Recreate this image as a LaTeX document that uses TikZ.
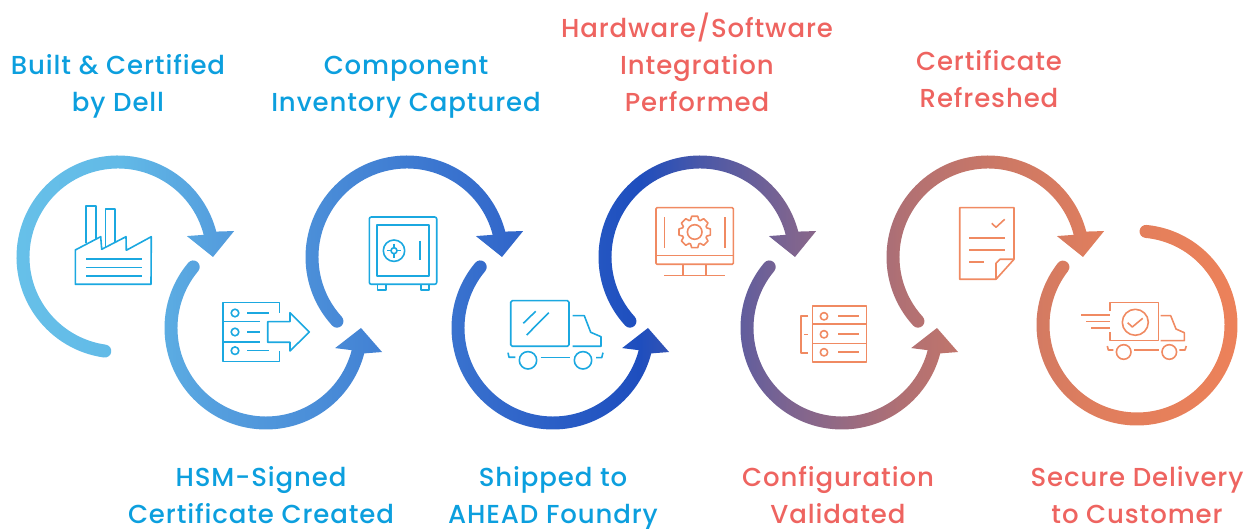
\documentclass[tikz,border=0pt]{standalone}
\usepackage{fontspec}
\newfontfamily\lblfont[LetterSpace=3.4]{Poppins Medium}
\usepackage{tikz}
\definecolor{lblblue}{HTML}{0C9FDE}
\definecolor{lblred}{HTML}{EE6460}
\definecolor{iconblue}{HTML}{1BA8E0}
\definecolor{iconred}{HTML}{F08A62}
\definecolor{ribA}{HTML}{67C1E9}
\definecolor{ribB}{HTML}{62BAE7}
\definecolor{ribC}{HTML}{559FDE}
\definecolor{ribD}{HTML}{4A8DD8}
\definecolor{ribE}{HTML}{3369CB}
\definecolor{ribF}{HTML}{1E4EBE}
\definecolor{ribG}{HTML}{4A58A8}
\definecolor{ribH}{HTML}{7D6490}
\definecolor{ribI}{HTML}{B07074}
\definecolor{ribJ}{HTML}{CC7865}
\definecolor{ribK}{HTML}{E07E5D}
\definecolor{ribL}{HTML}{EE8259}
\pgfdeclarehorizontalshading{ribbonshade}{100bp}{
color(0bp)=(ribA); color(25bp)=(ribA); color(29.7bp)=(ribB); color(33.5bp)=(ribC); color(37.75bp)=(ribD); color(44.95bp)=(ribE); color(50.5bp)=(ribF);
color(52.95bp)=(ribG); color(56.5bp)=(ribH); color(60.9bp)=(ribI); color(64.9bp)=(ribJ); color(68.9bp)=(ribK); color(75bp)=(ribL); color(100bp)=(ribL)}
\tikzset{
pxscope/.style={shift={(0,529)},yscale=-1},
lbl/.style={font=\lblfont\fontsize{26}{37}\selectfont,align=center},
iconb/.style={draw=iconblue,line width=1.6pt,line join=round},
iconr/.style={draw=iconred,line width=1.6pt,line join=round}
}
% top ring: centre x, centre y, start angle
\newcommand{\topring}[3]{([shift={(#3:101.5)}]#1,#2) arc[start angle=#3,end angle=14.5,radius=101.5pt]
 -- ([shift={(12.6:119)}]#1,#2) -- ([shift={(0:95)}]#1,#2) -- ([shift={(16.9:72)}]#1,#2) -- ([shift={(14.5:88.5)}]#1,#2)
 arc[start angle=14.5,end angle=#3,radius=88.5pt] arc[start angle=#3+180,end angle=#3,radius=6.5pt] -- cycle}
% bottom ring
\newcommand{\botring}[3]{([shift={(#3:101.5)}]#1,#2) arc[start angle=#3,end angle=345.5,radius=101.5pt]
 -- ([shift={(-11.7:118.5)}]#1,#2) -- ([shift={(0:95)}]#1,#2) -- ([shift={(-16.2:72)}]#1,#2) -- ([shift={(345.5:88.5)}]#1,#2)
 arc[start angle=345.5,end angle=#3,radius=88.5pt] arc[start angle=#3+180,end angle=#3+360,radius=6.5pt] -- cycle}
\begin{document}
\begin{tikzpicture}[x=1pt,y=1pt]
\useasboundingbox (0,0) rectangle (1253,529);
\begin{scope}
\clip \topring{118}{272}{262} \botring{266}{201}{140} \topring{407}{272}{222.5} \botring{553}{201}{140}
 \topring{700}{272}{222.5} \botring{842}{201}{140} \topring{988}{272}{222.5}
 ([shift={(142:100.5)}]1137,204) arc[start angle=142,end angle=444.5,radius=100.5pt]
 arc[start angle=84.5,end angle=264.5,radius=6.5pt]
 arc[start angle=444.5,end angle=142,radius=87.5pt]
 arc[start angle=322,end angle=502,radius=6.5pt] -- cycle;
\shade[shading=ribbonshade] (0,0) rectangle (1253,529);
\end{scope}
\begin{scope}[pxscope]
% labels
\node[lbl,text=lblblue] (built) at (118,86.5) {Built \& Certified\\by Dell};
\node[lbl,text=lblblue] (inventory) at (406,87) {Component\\Inventory Captured};
\node[lbl,text=lblblue] (hsm) at (261,495.5) {HSM-Signed\\Certificate Created};
\node[lbl,text=lblblue] (shipped) at (553,498.5) {Shipped to\\AHEAD Foundry};
\node[lbl,text=lblred] (hardware) at (697,62) {Hardware/Software\\Integration\\Performed};
\node[lbl,text=lblred] (refreshed) at (989,79.5) {Certificate\\Refreshed};
\node[lbl,text=lblred] (validated) at (838,495.5) {Configuration\\Validated};
\node[lbl,text=lblred] (delivery) at (1137,495.5) {Secure Delivery\\to Customer};
% factory
\draw[iconb] (75.3,250) -- (100.7,236.7) -- (101.7,249.3) -- (126,236.7) -- (126.3,250.3) -- (151.3,236.7) -- (151,284.3) -- (75.3,284.3) -- cycle;
\draw[iconb] (86,243.5) -- (86,206) -- (95.7,206) -- (95.7,239);
\draw[iconb] (105.3,247) -- (105.3,209.3) -- (115,209.3) -- (115,242);
\foreach \y in {259,267.7,276.3} \draw[iconb] (86.3,\y) -- (142.3,\y);
% server with arrow
\draw[iconb] (279.3,312.7) -- (279.3,302.7) -- (222.7,302.7) -- (222.7,361.7) -- (279.3,361.7) -- (279.3,350.7);
\draw[iconb] (222.7,321.7) -- (260,321.7) (222.7,342.3) -- (260,342.3);
\foreach \y in {313,332,350.7} \draw[iconb] (235,\y) circle (3.8);
\draw[iconb] (247.3,313) -- (269,313) (247.3,332) -- (260,332) (247.3,350.7) -- (269,350.7);
\draw[iconb] (267.7,321.7) -- (290,321.7) -- (290,312.7) -- (309.3,332) -- (290,351) -- (290,342.3) -- (267.7,342.3) -- cycle;
% safe
\draw[iconb,rounded corners=2pt] (369.3,217) rectangle (436.7,284.3);
\draw[iconb,line width=2pt] (377.3,225.3) rectangle (428.7,276.3);
\draw[iconb] (394,250.7) circle (10.7) (394,250.7) circle (3);
\draw[iconb] (394,243.7) -- (394,247.7) (394,253.7) -- (394,257.7) (387,250.7) -- (391,250.7) (397,250.7) -- (401,250.7);
\draw[iconb] (420,240.7) -- (420,260.3);
\draw[iconb] (377.3,284.3) -- (377.3,290.3) -- (385.7,290.3) -- (385.7,284.3) (420.7,284.3) -- (420.7,290.3) -- (428.7,290.3) -- (428.7,284.3);
% truck
\draw[iconb,rounded corners=1.5pt] (510.7,300.7) rectangle (569,346.3);
\draw[iconb] (523.3,323.3) -- (535.7,311.3) (526.7,335) -- (548.7,312.7);
\draw[iconb] (572.7,315.7) -- (584.3,315.7) -- (590.7,332.3) -- (601,336.7) -- (601,346.3) -- (572.7,346.3);
\draw[iconb] (528,360.3) circle (8.7) (583,360.3) circle (8.7);
\draw[iconb] (540.7,357.7) -- (570,357.7);
\draw[iconb] (508,352.7) -- (509,357.3) -- (515.3,357.3) (596,357.7) -- (601.7,357.7) -- (603,352.7);
% monitor
\draw[iconr,rounded corners=1pt] (656,207.7) rectangle (733.3,264.3);
\draw[iconr] (656,255.7) -- (733.3,255.7);
\draw[iconr] (683,264.3) -- (683,275.7) (706,264.3) -- (706,275.7) (664.3,275.7) -- (725.3,275.7);
\draw[iconr] (664.3,217.3) -- (664.3,248) (725,217.3) -- (725,248);
\draw[iconr] (694.7,232) circle (7.3);
\draw[iconr,shift={(694.7,232)}] (11:16) \foreach \a in {0,45,...,315} { -- (\a+11:16) -- (\a+19:12.7) -- (\a+26:12.7) -- (\a+34:16) } -- cycle;
% server
\draw[iconr] (812.3,306.3) rectangle (866.3,362.3);
\draw[iconr] (812.3,324.3) -- (866.3,324.3) (812.3,343.7) -- (866.3,343.7);
\foreach \y in {316.3,334.3,352.3} {
\draw[iconr] (824,\y) circle (3.7);
\draw[iconr] (838.3,\y) -- (859,\y);
}
\draw[iconr] (808.3,316) -- (800.7,316) -- (800.7,353.3) -- (808.3,353.3) (804,334.7) -- (808.3,334.7);
% document
\draw[iconr] (959.7,207.7) -- (1014,207.7) -- (1014,259.3) -- (996,279.3) -- (959.7,279.3) -- cycle;
\draw[iconr] (1014,259.3) -- (1000,259.3) -- (996,263.3) -- (996,279.3);
\draw[iconr] (991.7,223.3) -- (996,227.3) -- (1004.7,219.3);
\draw[iconr] (969,238.3) -- (1004.7,238.3) (969,250) -- (1004.7,250) (969,262) -- (984,262);
% delivery truck
\draw[iconr] (1109.7,311) -- (1109.7,302.7) -- (1158.3,302.7) -- (1158.3,340.7) -- (1109.7,340.7) -- (1109.7,332);
\draw[iconr] (1135.3,322.3) circle (13);
\draw[iconr] (1127.7,322.7) -- (1132.3,327) -- (1142.7,318.3);
\draw[iconr] (1081,315) -- (1109.7,315) (1086,321.7) -- (1109.7,321.7) (1091.3,328.3) -- (1109.7,328.3);
\draw[iconr] (1160.7,315.7) -- (1170.7,315.7) -- (1176,329) -- (1184.3,332.7) -- (1184.3,340.7) -- (1160.7,340.7);
\draw[iconr] (1123.7,352) circle (7.3) (1169.3,352) circle (7.3);
\draw[iconr] (1134,350) -- (1159,350);
\draw[iconr] (1107.3,346) -- (1108.3,350) -- (1113.3,350) (1179.3,350) -- (1185,350) -- (1186.3,346);
\end{scope}
\end{tikzpicture}
\end{document}
